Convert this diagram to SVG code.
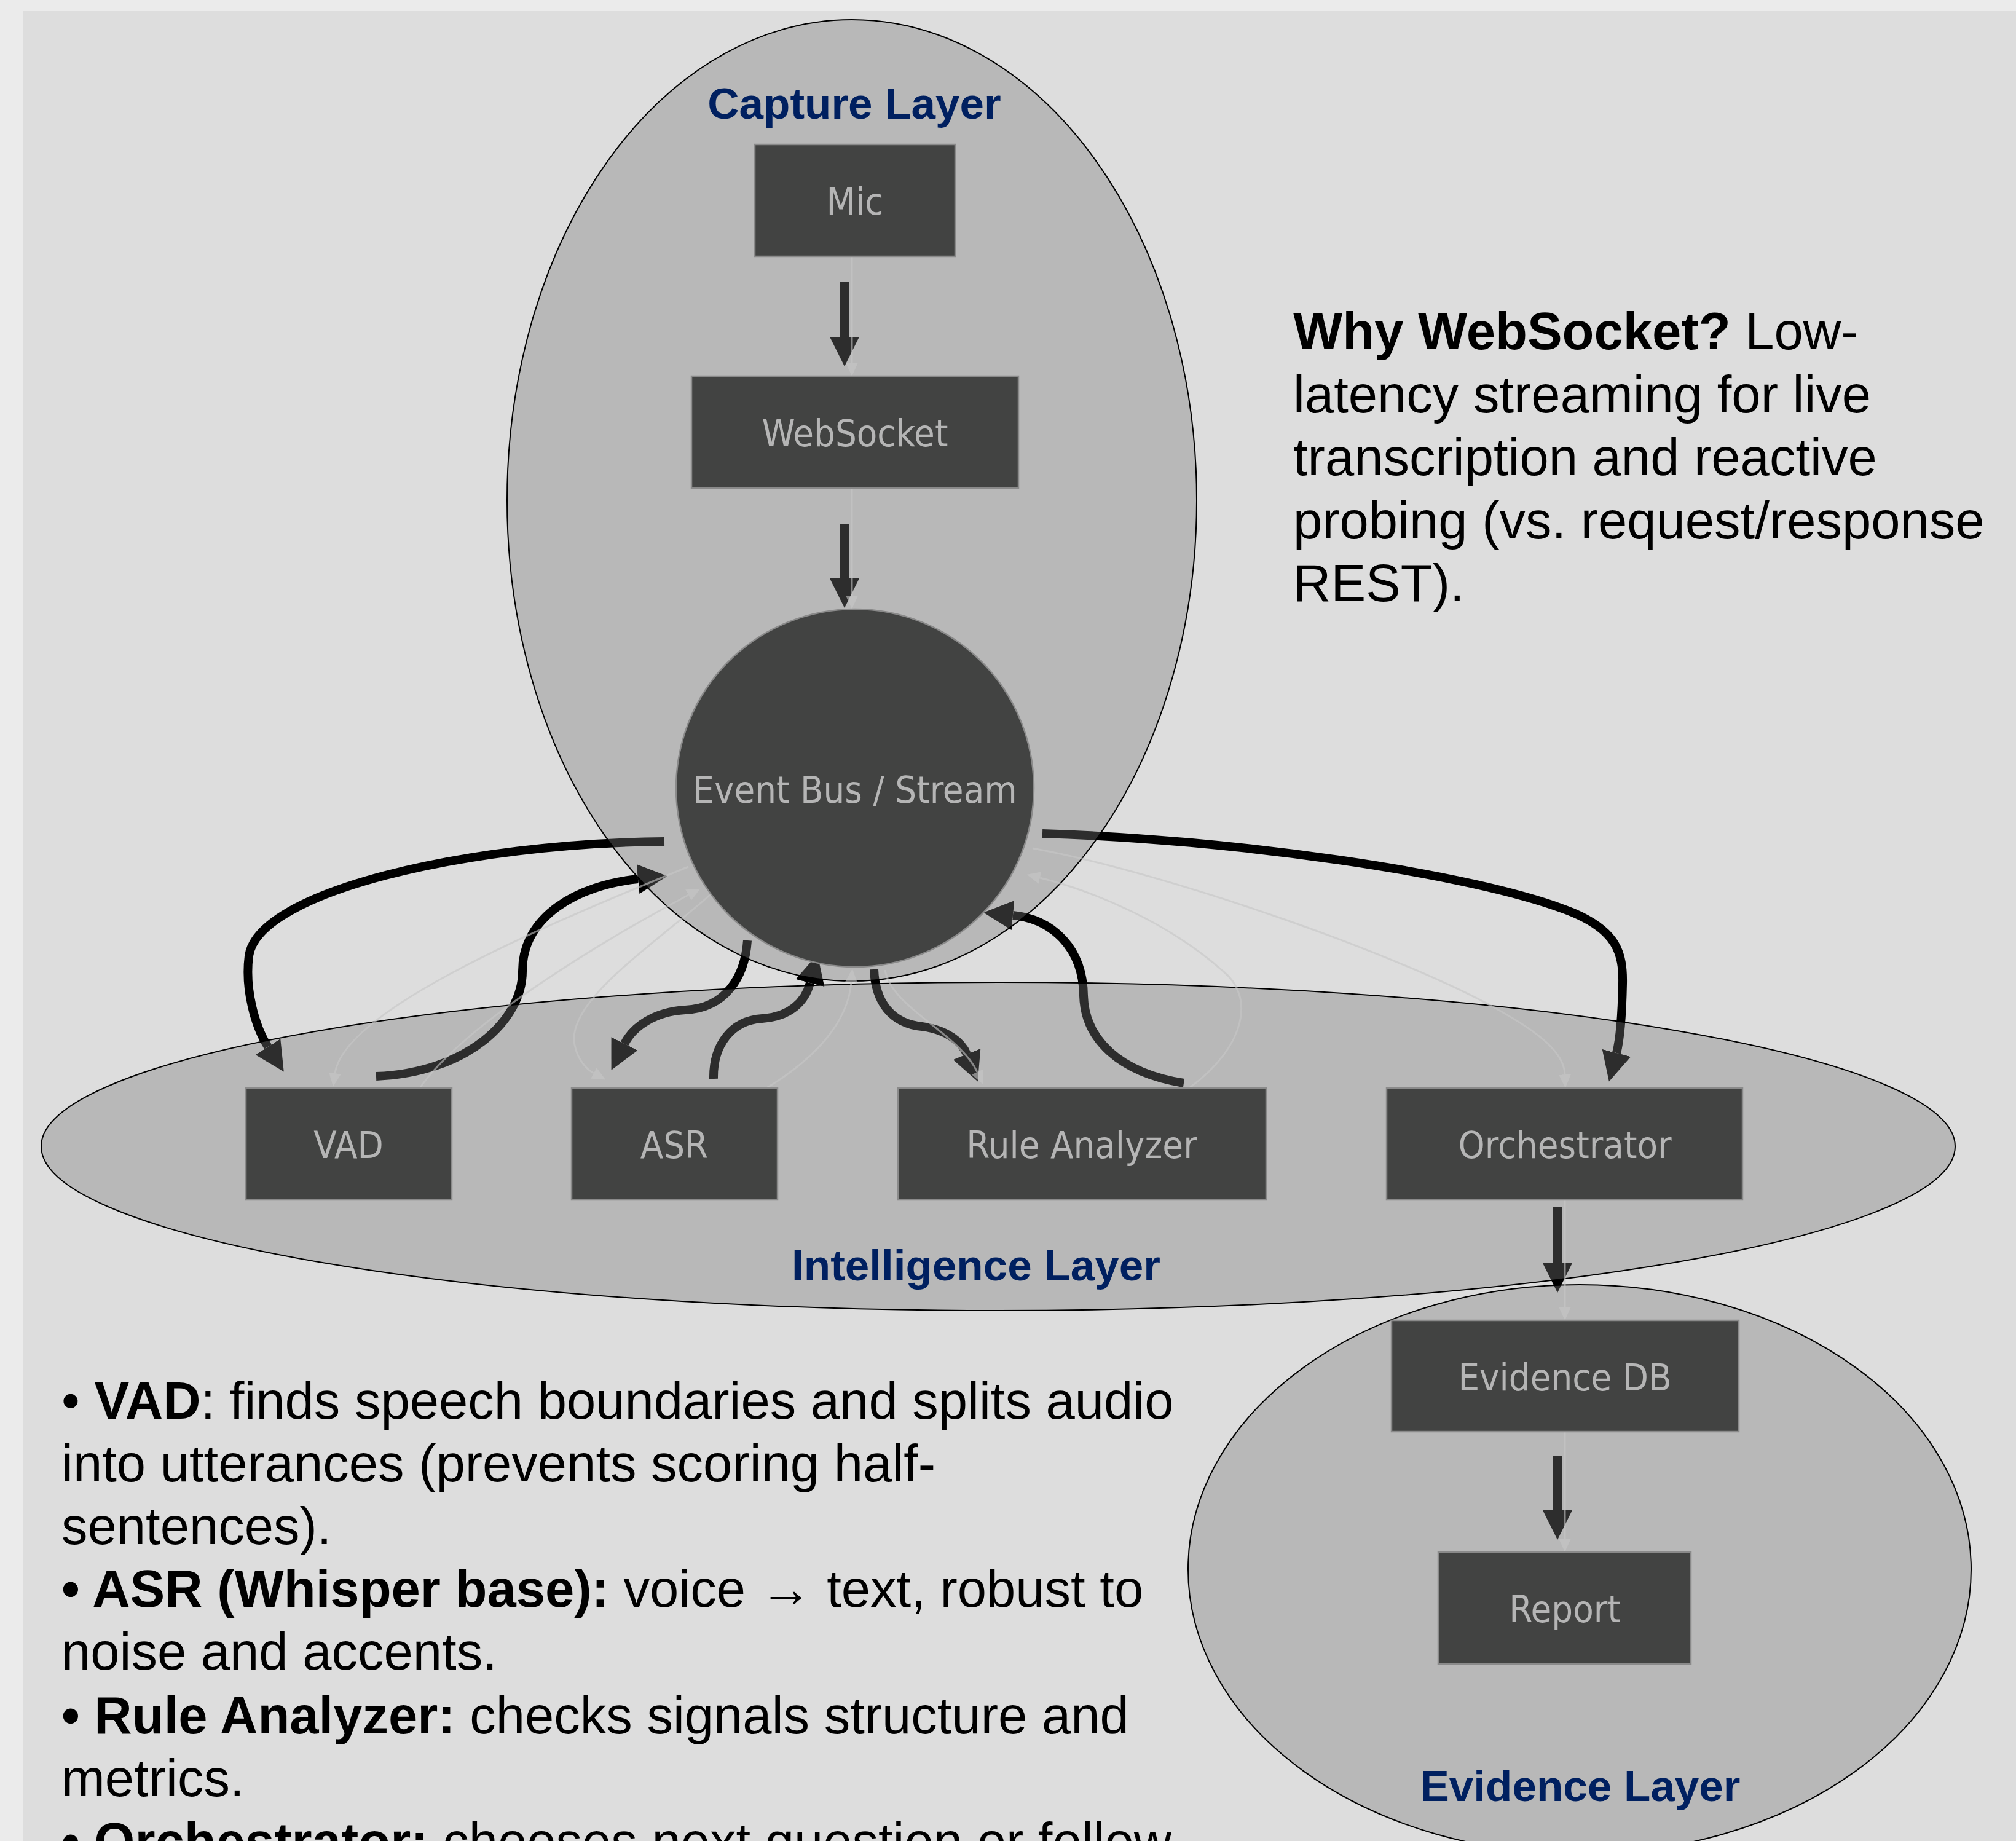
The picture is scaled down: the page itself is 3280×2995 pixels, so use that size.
<svg xmlns="http://www.w3.org/2000/svg" width="3280" height="2995" viewBox="0 0 3280 2995">
<style>
.bg-outer{fill:#ebebeb}
.bg-inner{fill:#dddddd}
.cluster{fill:rgb(123,123,123);fill-opacity:0.367;stroke:#000;stroke-width:2}
.clabel{font-family:"Liberation Sans",Arial,sans-serif;font-weight:bold;font-size:71px;fill:#002060;text-anchor:middle}
.node rect,.node circle{fill:#424342;stroke:#8a8a8a;stroke-width:2.5}
.node text{font-family:"DejaVu Sans Condensed","DejaVu Sans",sans-serif;font-stretch:condensed;font-size:61px;fill:#b5b5b5;text-anchor:middle}
.edge{fill:none;stroke:#000;stroke-width:14}
.faint{fill:none;stroke:#c6c6c6;stroke-width:3;stroke-opacity:0.6}
.note{font-family:"Liberation Sans",Arial,sans-serif;font-size:85px;fill:#000}
.b{font-weight:bold}
</style>
<defs>
<marker id="ah" markerUnits="userSpaceOnUse" markerWidth="50" markerHeight="50" viewBox="0 -25 50 50" refX="0" refY="0" orient="auto">
<path d="M0,-24 L48,0 L0,24 z" fill="#000"/>
</marker>
<marker id="fh" markerUnits="userSpaceOnUse" markerWidth="24" markerHeight="24" viewBox="0 -12 24 24" refX="0" refY="0" orient="auto">
<path d="M0,-10 L22,0 L0,10 z" fill="#c6c6c6" fill-opacity="0.6"/>
</marker>
</defs>
<rect class="bg-outer" x="0" y="0" width="3280" height="2995"/>
<rect class="bg-inner" x="38" y="18" width="3242" height="2977"/>

<g id="connectors">
<path class="edge" d="M1374,459 L1374,548" marker-end="url(#ah)"/>
<path class="edge" d="M1374,852 L1374,941" marker-end="url(#ah)"/>
<path class="edge" d="M1081,1369 C760,1372 420,1450 405,1555 C398,1610 415,1670 436,1703" marker-end="url(#ah)"/>
<path class="edge" d="M612,1751 C760,1745 850,1660 850,1580 C850,1490 940,1440 1038,1430" marker-end="url(#ah)"/>
<path class="edge" d="M1216,1530 C1212,1590 1180,1640 1115,1643 C1065,1646 1030,1670 1016,1698" marker-end="url(#ah)"/>
<path class="edge" d="M1161,1755 C1160,1700 1190,1660 1240,1657 C1285,1654 1310,1630 1318,1599" marker-end="url(#ah)"/>
<path class="edge" d="M1422,1577 C1424,1630 1450,1665 1500,1670 C1540,1675 1565,1695 1573,1715" marker-end="url(#ah)"/>
<path class="edge" d="M1926,1762 C1820,1745 1765,1690 1763,1620 C1762,1540 1710,1495 1648,1489" marker-end="url(#ah)"/>
<path class="edge" d="M1696,1356 C2000,1365 2400,1420 2560,1485 C2630,1515 2641,1550 2640,1600 C2639,1650 2636,1690 2630,1713" marker-end="url(#ah)"/>
<path class="edge" d="M2534,1964 L2534,2055" marker-end="url(#ah)"/>
<path class="edge" d="M2534,2368 L2534,2457" marker-end="url(#ah)"/>
</g>

<g id="clusters">
<g id="cluster-capture">
<ellipse class="cluster" cx="1386" cy="814" rx="561" ry="782"/>
</g>
<g id="cluster-intelligence">
<ellipse class="cluster" cx="1624" cy="1865" rx="1557" ry="267"/>
</g>
<g id="cluster-evidence">
<ellipse class="cluster" cx="2570" cy="2553" rx="637" ry="463"/>
</g>
</g>

<g id="connectors-faint">
<path class="faint" d="M1386,417 L1386,590" marker-end="url(#fh)"/>
<path class="faint" d="M1386,794 L1386,969" marker-end="url(#fh)"/>
<path class="faint" d="M1120,1410 C900,1500 560,1640 545,1746" marker-end="url(#fh)"/>
<path class="faint" d="M683,1770 C760,1660 1000,1520 1120,1456" marker-end="url(#fh)"/>
<path class="faint" d="M1155,1456 C1060,1540 920,1630 935,1700 C940,1725 955,1740 966,1746" marker-end="url(#fh)"/>
<path class="faint" d="M1247,1770 C1330,1720 1380,1660 1385,1598" marker-end="url(#fh)"/>
<path class="faint" d="M1440,1578 C1450,1640 1560,1680 1590,1744" marker-end="url(#fh)"/>
<path class="faint" d="M1935,1770 C2030,1700 2040,1620 1990,1580 C1900,1500 1780,1450 1692,1428" marker-end="url(#fh)"/>
<path class="faint" d="M1680,1380 C1900,1420 2300,1560 2450,1650 C2520,1690 2545,1720 2546,1748" marker-end="url(#fh)"/>
<path class="faint" d="M2546,1952 L2546,2126" marker-end="url(#fh)"/>
<path class="faint" d="M2546,2329 L2546,2503" marker-end="url(#fh)"/>
</g>

<g id="node-mic" class="node"><rect x="1228" y="235" width="326" height="182"/><text x="1391" y="349">Mic</text></g>
<g id="node-websocket" class="node"><rect x="1125" y="612" width="532" height="182"/><text x="1391" y="726">WebSocket</text></g>
<g id="node-eventbus" class="node"><circle cx="1391" cy="1282" r="291"/><text x="1391" y="1306">Event Bus / Stream</text></g>
<g id="node-vad" class="node"><rect x="400" y="1770" width="335" height="182"/><text x="567" y="1884">VAD</text></g>
<g id="node-asr" class="node"><rect x="930" y="1770" width="335" height="182"/><text x="1097" y="1884">ASR</text></g>
<g id="node-rule" class="node"><rect x="1461" y="1770" width="599" height="182"/><text x="1760" y="1884">Rule Analyzer</text></g>
<g id="node-orchestrator" class="node"><rect x="2256" y="1770" width="579" height="182"/><text x="2546" y="1884">Orchestrator</text></g>
<g id="node-evidencedb" class="node"><rect x="2264" y="2148" width="565" height="181"/><text x="2546" y="2262">Evidence DB</text></g>
<g id="node-report" class="node"><rect x="2340" y="2525" width="411" height="182"/><text x="2546" y="2639">Report</text></g>

<g id="labels">
<text class="clabel" x="1390" y="193">Capture Layer</text>
<text class="clabel" x="1588" y="2083">Intelligence Layer</text>
<text class="clabel" x="2571" y="2930">Evidence Layer</text>
</g>

<g id="note-websocket" class="note">
<text x="2104" y="568"><tspan class="b">Why WebSocket?</tspan> Low-</text>
<text x="2104" y="670.5">latency streaming for live</text>
<text x="2104" y="773">transcription and reactive</text>
<text x="2104" y="875.5">probing (vs. request/response</text>
<text x="2104" y="978">REST).</text>
</g>

<g id="note-components" class="note">
<text x="100" y="2308">• <tspan class="b">VAD</tspan>: finds speech boundaries and splits audio</text>
<text x="100" y="2410">into utterances (prevents scoring half-</text>
<text x="100" y="2512">sentences).</text>
<text x="100" y="2614"><tspan class="b">• ASR (Whisper base):</tspan> voice → text, robust to</text>
<text x="100" y="2716">noise and accents.</text>
<text x="100" y="2820"><tspan class="b">• Rule Analyzer:</tspan> checks signals structure and</text>
<text x="100" y="2922">metrics.</text>
<text x="100" y="3025"><tspan class="b">• Orchestrator:</tspan> chooses next question or follow</text>
</g>
</svg>
